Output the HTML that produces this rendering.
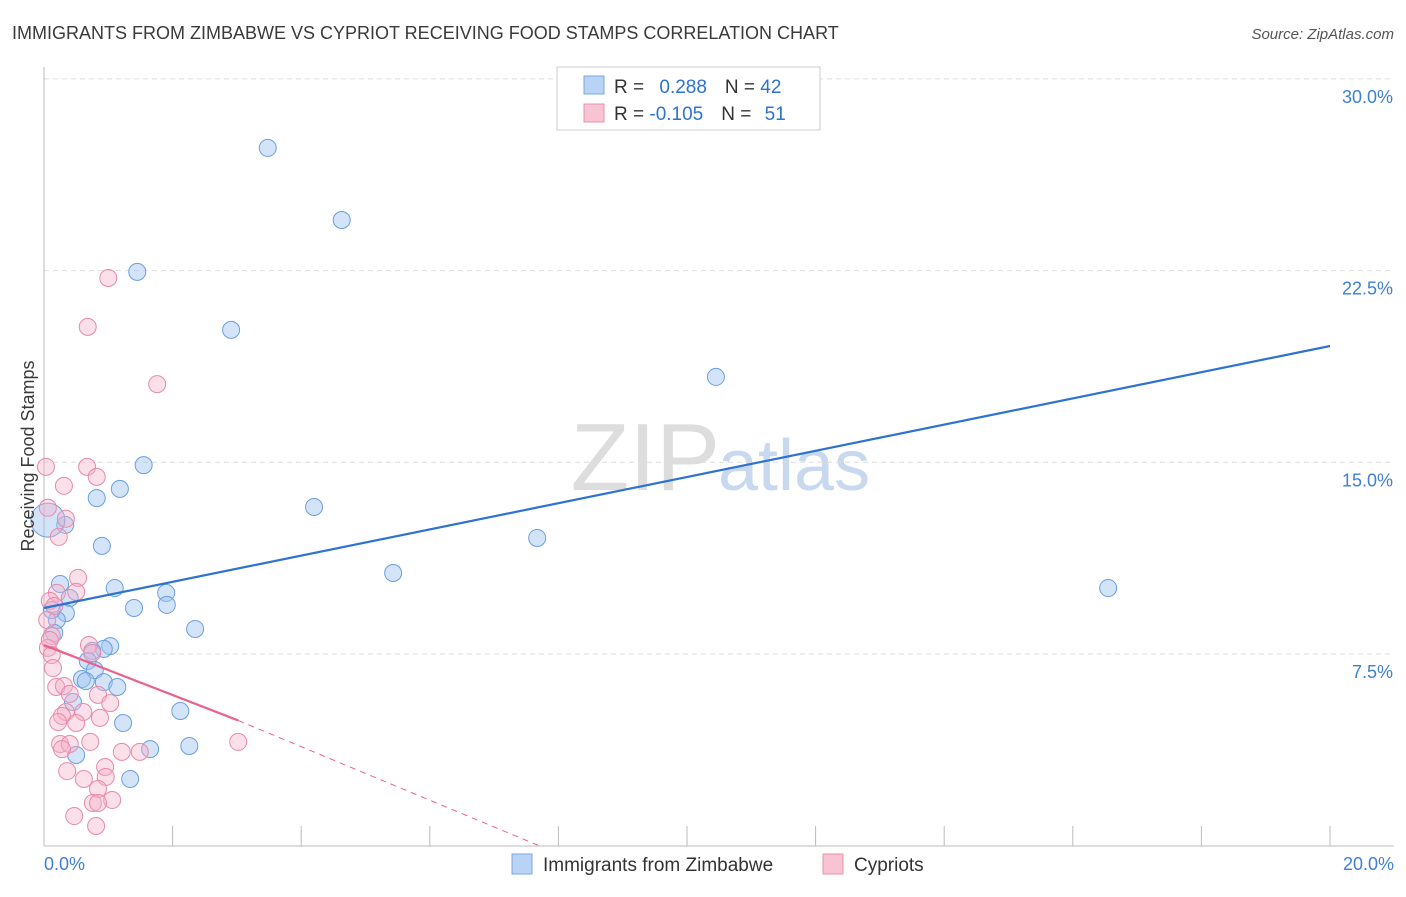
<!DOCTYPE html>
<html><head><meta charset="utf-8"><style>
body{margin:0;background:#fff;font-family:"Liberation Sans",sans-serif;}
svg text{font-family:"Liberation Sans",sans-serif;}
</style></head><body>
<svg id="chart" width="1406" height="892">
<text x="12" y="39" font-size="18" fill="#3a3a3a">IMMIGRANTS FROM ZIMBABWE VS CYPRIOT RECEIVING FOOD STAMPS CORRELATION CHART</text>
<text x="1394" y="39" font-size="15" fill="#555" font-style="italic" text-anchor="end">Source: ZipAtlas.com</text>
<text x="720" y="490" font-size="96" fill="#ddd" text-anchor="end" font-family="Liberation Serif">ZIP</text>
<text x="718" y="490" font-size="72" fill="#c8d8ee">atlas</text>
<g id="grid"></g><g id="axes"></g><g id="marks"></g>
<text transform="translate(34,456) rotate(-90)" font-size="18" fill="#3a3a3a" text-anchor="middle">Receiving Food Stamps</text>
<g>
<rect x="557" y="67" width="263" height="63" fill="#fff" stroke="#ccc"/>
<rect x="584" y="76" width="20" height="18" fill="#b8d3f5" stroke="#7aa8e0"/>
<rect x="584" y="104" width="20" height="18" fill="#f8c4d4" stroke="#e890aa"/>
<text x="614" y="93" font-size="19" fill="#333">R = <tspan fill="#2e72d2" dx="10">0.288</tspan><tspan dx="18">N = </tspan><tspan fill="#2e72d2">42</tspan></text>
<text x="614" y="120" font-size="19" fill="#333">R = <tspan fill="#2e72d2">-0.105</tspan><tspan dx="18">N = </tspan><tspan fill="#2e72d2" dx="8">51</tspan></text>
</g>
<g>
<rect x="512" y="854" width="20" height="20" fill="#b8d3f5" stroke="#7aa8e0"/>
<text x="543" y="871" font-size="19" fill="#333">Immigrants from Zimbabwe</text>
<rect x="823" y="854" width="20" height="20" fill="#f8c4d4" stroke="#e890aa"/>
<text x="854" y="871" font-size="19" fill="#333">Cypriots</text>
</g>
</svg>
<script>
const yTicks=[7.5,15,22.5,30];
const yTickLabels=["7.5%","15.0%","22.5%","30.0%"];
const xTicks=[0,2,4,6,8,10,12,14,16,18,20];
const blueX=[3.48,4.63,1.45,2.91,10.45,1.55,1.18,0.82,4.20,0.33,7.67,0.90,5.43,16.55,1.10,0.25,1.90,0.40,1.40,1.91,0.34,0.20,0.16,2.35,1.03,0.93,0.75,0.68,0.79,0.59,0.65,0.93,1.14,0.45,2.12,1.23,1.65,2.26,0.50,1.34,0.12];
const blueY=[27.30,24.48,22.45,20.18,18.34,14.89,13.96,13.60,13.25,12.55,12.04,11.73,10.67,10.08,10.08,10.24,9.89,9.69,9.30,9.42,9.10,8.83,8.32,8.48,7.81,7.70,7.62,7.23,6.87,6.52,6.44,6.40,6.21,5.62,5.27,4.80,3.78,3.90,3.55,2.61,9.22];
const bigBlue=[0.06,12.74];
const pinkX=[1.00,0.68,1.76,0.03,0.67,0.82,0.31,0.06,0.34,0.23,0.53,0.50,0.20,0.09,0.16,0.05,0.12,0.70,0.06,0.12,0.14,0.75,0.19,0.31,0.84,0.40,1.03,0.34,0.61,0.28,0.50,0.87,0.22,0.72,0.25,0.40,0.28,1.21,1.49,3.02,0.36,0.95,0.62,0.96,0.84,1.06,0.76,0.84,0.47,0.81,0.09];
const pinkY=[22.21,20.30,18.06,14.82,14.82,14.43,14.08,13.22,12.79,12.08,10.48,9.93,9.89,9.58,9.38,8.83,8.21,7.85,7.74,7.46,6.95,7.54,6.21,6.25,5.90,5.94,5.58,5.23,5.23,5.08,4.80,5.00,4.84,4.06,3.98,3.98,3.78,3.67,3.67,4.06,2.92,3.08,2.61,2.69,2.22,1.79,1.67,1.67,1.16,0.77,8.05];
const blueTrend=[[0,9.3],[20,19.55]];
const pinkTrend=[[0,7.85],[3.02,4.9]];
const pinkDash=[[3.02,4.9],[7.7,0]];

const X=v=>44+v*64.3, Y=v=>845.7-v*25.56;
const NS="http://www.w3.org/2000/svg";
function mk(tag,attrs,parent){const e=document.createElementNS(NS,tag);for(const k in attrs)e.setAttribute(k,attrs[k]);document.getElementById(parent).appendChild(e);return e;}
yTicks.forEach((t,i)=>{
 const l=mk('line',{x1:44,x2:1394,y1:Y(t),y2:Y(t),stroke:'#ddd','stroke-dasharray':'5,4'},'grid');
 
 
 const tx=mk('text',{x:1393,y:Y(t)+24,'font-size':18,fill:'#3f7fd6','text-anchor':'end'},'grid');
 tx.textContent=yTickLabels[i];
 
 
});
const ax=mk('line',{x1:44,x2:44,y1:67,y2:846,stroke:'#bbb'},'axes');


const bx=mk('line',{x1:44,x2:1394,y1:846,y2:846,stroke:'#bbb'},'axes');


xTicks.forEach(t=>{
 const l=mk('line',{x1:X(t),x2:X(t),y1:826,y2:846,stroke:'#bbb'},'axes');
 
 
});
const xl0=mk('text',{x:44,y:870,'font-size':18,fill:'#3f7fd6'},'axes');xl0.textContent="0.0%";


const xl1=mk('text',{x:1394,y:870,'font-size':18,fill:'#3f7fd6','text-anchor':'end'},'axes');xl1.textContent="20.0%";


blueX.forEach((x,i)=>{
 const c=mk('circle',{cx:X(x),cy:Y(blueY[i]),r:8.5,fill:'rgba(160,195,240,0.45)',stroke:'#6a9fe0','stroke-width':1},'marks');
 
 
});
const bb=mk('circle',{cx:X(bigBlue[0]),cy:Y(bigBlue[1]),r:17,fill:'rgba(160,195,240,0.45)',stroke:'#6a9fe0'},'marks');


pinkX.forEach((x,i)=>{
 const c=mk('circle',{cx:X(x),cy:Y(pinkY[i]),r:8.5,fill:'rgba(245,175,200,0.4)',stroke:'#e88aa8','stroke-width':1},'marks');
 
 
});
const bl=mk('line',{x1:X(blueTrend[0][0]),y1:Y(blueTrend[0][1]),x2:X(blueTrend[1][0]),y2:Y(blueTrend[1][1]),stroke:'#2e72d2','stroke-width':2.2},'marks');


const pl=mk('line',{x1:X(pinkTrend[0][0]),y1:Y(pinkTrend[0][1]),x2:X(pinkTrend[1][0]),y2:Y(pinkTrend[1][1]),stroke:'#e8648e','stroke-width':2.2},'marks');


const pd=mk('line',{x1:X(pinkDash[0][0]),y1:Y(pinkDash[0][1]),x2:X(pinkDash[1][0]),y2:Y(pinkDash[1][1]),stroke:'#e8648e','stroke-width':1,'stroke-dasharray':'6,5'},'marks');


</script>
</body></html>
